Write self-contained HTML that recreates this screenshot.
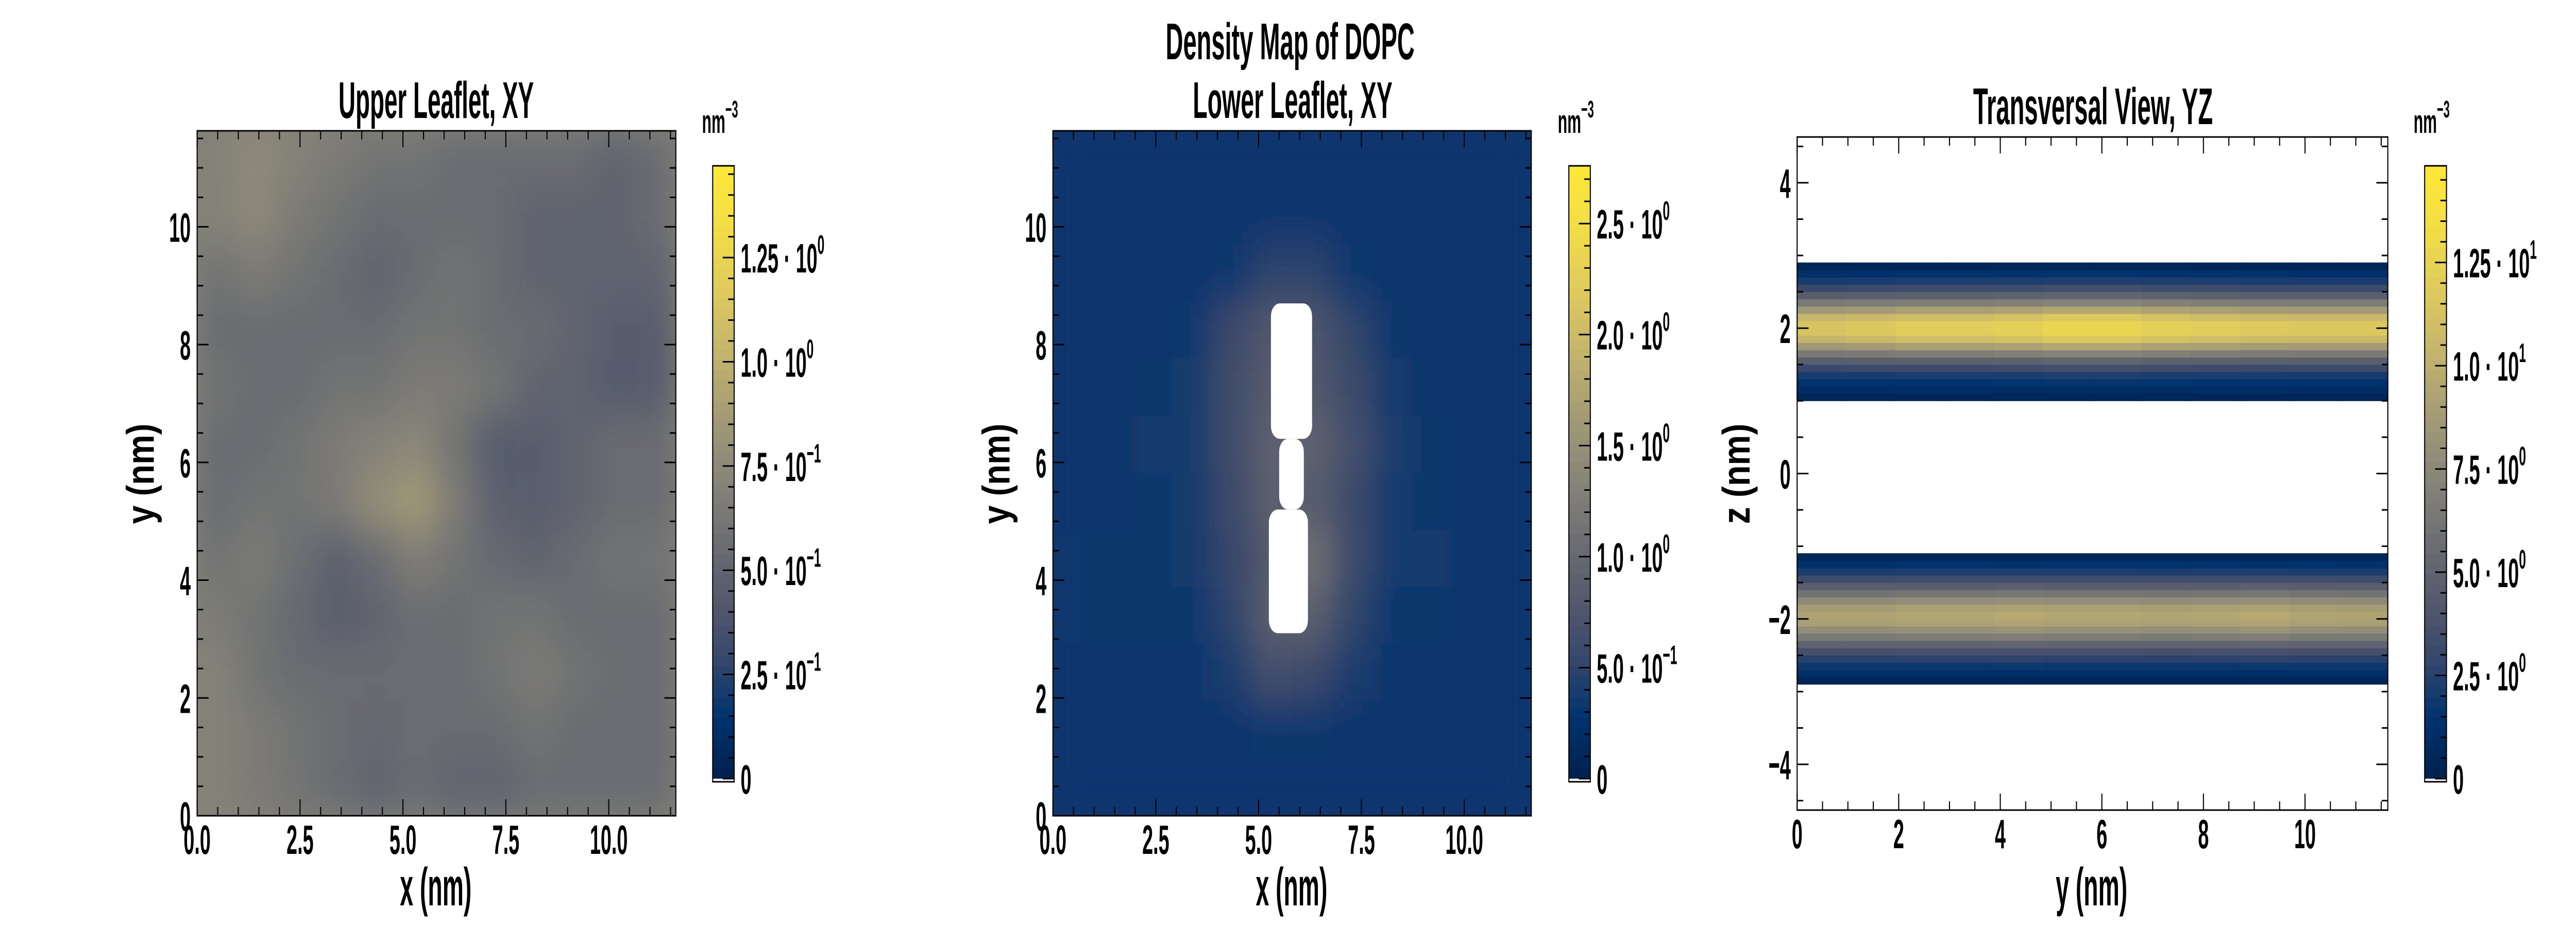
<!DOCTYPE html>
<html><head><meta charset="utf-8">
<style>
html,body{margin:0;padding:0;background:#fff;overflow:hidden;width:100%;height:100%;}
svg{display:block;width:100vw;height:100vh;}
text{font-family:"Liberation Sans","DejaVu Sans",sans-serif;font-weight:bold;fill:#000;}
</style></head>
<body>
<svg id="fig" xmlns="http://www.w3.org/2000/svg" viewBox="0 0 7200 1800" preserveAspectRatio="none">
<defs>
<filter id="soft" x="-10%" y="-10%" width="120%" height="120%"><feGaussianBlur stdDeviation="40"/></filter>
<clipPath id="clip1"><rect x="551" y="254" width="1338" height="1330"/></clipPath>
<clipPath id="clip2"><rect x="2943" y="254" width="1337" height="1330"/></clipPath>
<clipPath id="clip3"><rect x="5023" y="266" width="1651" height="1307"/></clipPath>
</defs>
</svg>
<script>
// ---------- data ----------
const upperGrid = [
[0.70,0.75,0.70,0.65,0.60,0.60,0.55,0.55,0.55,0.55,0.50,0.55],
[0.70,0.75,0.65,0.60,0.55,0.55,0.55,0.55,0.50,0.50,0.50,0.55],
[0.60,0.65,0.60,0.55,0.50,0.55,0.60,0.55,0.50,0.50,0.50,0.50],
[0.55,0.55,0.55,0.55,0.55,0.60,0.60,0.55,0.55,0.50,0.45,0.45],
[0.60,0.55,0.55,0.60,0.60,0.65,0.65,0.60,0.50,0.50,0.43,0.45],
[0.55,0.55,0.60,0.65,0.70,0.74,0.60,0.43,0.45,0.50,0.55,0.55],
[0.55,0.60,0.60,0.65,0.78,0.85,0.65,0.47,0.45,0.50,0.55,0.55],
[0.60,0.65,0.57,0.47,0.55,0.67,0.60,0.53,0.50,0.55,0.60,0.60],
[0.65,0.60,0.53,0.45,0.50,0.57,0.55,0.60,0.60,0.55,0.55,0.55],
[0.70,0.60,0.55,0.55,0.55,0.55,0.55,0.60,0.65,0.60,0.55,0.55],
[0.70,0.65,0.60,0.55,0.53,0.55,0.55,0.55,0.60,0.55,0.55,0.55],
[0.70,0.65,0.60,0.55,0.50,0.55,0.50,0.50,0.55,0.55,0.55,0.55]
];
const lowerGrid = [
[0.32,0.32,0.32,0.32,0.32,0.32,0.32,0.32,0.32,0.32,0.32,0.32],
[0.32,0.32,0.32,0.32,0.32,0.32,0.32,0.32,0.32,0.32,0.32,0.32],
[0.32,0.32,0.32,0.32,0.35,0.50,0.50,0.35,0.32,0.32,0.32,0.32],
[0.32,0.32,0.32,0.35,0.58,0.78,0.75,0.52,0.35,0.32,0.32,0.32],
[0.32,0.32,0.35,0.38,0.62,0.82,0.78,0.60,0.38,0.32,0.32,0.32],
[0.32,0.32,0.38,0.38,0.62,0.90,0.92,0.66,0.42,0.35,0.32,0.32],
[0.32,0.32,0.35,0.38,0.58,0.88,0.82,0.60,0.38,0.35,0.32,0.32],
[0.35,0.35,0.35,0.38,0.54,0.80,1.10,0.60,0.38,0.38,0.32,0.32],
[0.35,0.35,0.35,0.35,0.50,0.88,0.88,0.52,0.35,0.35,0.32,0.32],
[0.32,0.32,0.32,0.32,0.42,0.65,0.58,0.42,0.32,0.32,0.32,0.32],
[0.32,0.32,0.32,0.32,0.32,0.35,0.35,0.32,0.32,0.32,0.32,0.32],
[0.32,0.32,0.32,0.32,0.32,0.32,0.32,0.32,0.32,0.32,0.32,0.32]
];
const holeX0 = [5.30, 5.50, 5.25];
const holeX1 = [6.30, 6.10, 6.20];
const holeY0 = [6.40, 5.20, 3.10];
const holeY1 = [8.70, 6.40, 5.20];
const zUpper = [1.05,1.15,1.25,1.35,1.45,1.55,1.65,1.75,1.85,1.95,2.05,2.15,2.25,2.35,2.45,2.55,2.65,2.75,2.85];
const densUpper = [0.5,1.0,1.5,2.2,3.2,4.8,6.8,9.0,11.0,12.0,12.0,11.0,9.0,6.8,4.8,3.2,2.2,1.4,0.5];
const zLower = [-2.85,-2.75,-2.65,-2.55,-2.45,-2.35,-2.25,-2.15,-2.05,-1.95,-1.85,-1.75,-1.65,-1.55,-1.45,-1.35,-1.25,-1.15];
const densLower = [0.5,1.2,1.8,2.6,3.6,5.0,6.6,8.0,9.2,9.5,9.0,7.8,6.2,4.6,3.3,2.2,1.4,0.6];
const yModUpper = [0.95,0.97,1.00,1.00,1.02,1.06,1.06,1.02,1.00,0.98,0.97,0.97];
const yModLower = [0.98,0.98,1.00,1.00,1.02,1.00,1.00,0.99,1.00,1.02,0.99,0.98];
const xyTicks = [0, 2.5, 5, 7.5, 10];
const xyTickLabels = ["0.0","2.5","5.0","7.5","10.0"];
const xyYTicks = [0, 2, 4, 6, 8, 10];
const xyYTickLabels = ["0","2","4","6","8","10"];
const yzXTicks = [0, 2, 4, 6, 8, 10];
const yzXTickLabels = ["0","2","4","6","8","10"];
const yzYTicks = [-4, -2, 0, 2, 4];
const yzYTickLabels = ["\u22124","\u22122","0","2","4"];
const cb1Ticks = [0, 0.25, 0.5, 0.75, 1.0, 1.25];
const cb1Mant = ["0","2.5","5.0","7.5","1.0","1.25"];
const cb1Exp = ["","\u22121","\u22121","\u22121","0","0"];
const cb2Ticks = [0, 0.5, 1.0, 1.5, 2.0, 2.5];
const cb2Mant = ["0","5.0","1.0","1.5","2.0","2.5"];
const cb2Exp = ["","\u22121","0","0","0","0"];
const cb3Ticks = [0, 2.5, 5.0, 7.5, 10, 12.5];
const cb3Mant = ["0","2.5","5.0","7.5","1.0","1.25"];
const cb3Exp = ["","0","0","0","1","1"];

// ---------- helpers ----------
const NS = "http://www.w3.org/2000/svg";
const svg = document.getElementById("fig");
const civ = [[0,0,32,77],[0.1,0,51,111],[0.2,57,72,107],[0.3,87,92,109],[0.4,112,113,115],[0.5,138,135,121],[0.6,166,157,117],[0.7,196,181,108],[0.8,223,203,93],[0.9,243,221,70],[1,254,232,56]];
function cividis(t){
  t = Math.max(0, Math.min(1, t));
  for (let i = 1; i < civ.length; i++) {
    if (t <= civ[i][0]) {
      const a = civ[i-1], b = civ[i], f = (t - a[0]) / (b[0] - a[0]);
      return "rgb(" + [1,2,3].map(k => Math.round(a[k] + (b[k]-a[k])*f)).join(",") + ")";
    }
  }
  return "rgb(254,232,56)";
}
function el(tag, attrs, parent){
  const e = document.createElementNS(NS, tag);
  for (const k in attrs) e.setAttribute(k, attrs[k]);
  (parent || svg).appendChild(e);
  return e;
}
const SX = 0.68;
function txt(x, y, str, size, anchor, parent){
  const t = el("text", {transform:"translate(" + x + "," + y + ") scale(" + SX + ",1)", "font-size":size, "text-anchor":anchor||"middle"}, parent);
  t.textContent = str;
  return t;
}

const panels = [
  {L:551, R:1889, T:254, B:1584, x0:0, x1:11.63, y0:0, y1:11.63, clip:"clip1"},
  {L:2943, R:4280, T:254, B:1584, x0:0, x1:11.63, y0:0, y1:11.63, clip:"clip2"},
  {L:5023, R:6674, T:266, B:1573, x0:0, x1:11.63, y0:-4.63, y1:4.63, clip:"clip3"}
];
function sx(p, v){ return p.L + (v - p.x0) / (p.x1 - p.x0) * (p.R - p.L); }
function sy(p, v){ return p.B - (v - p.y0) / (p.y1 - p.y0) * (p.B - p.T); }

function drawGrid(p, grid, vmax, name){
  const outer = el("g", {"clip-path":"url(#" + p.clip + ")"});
  
  
  const base = el("rect", {x:p.L, y:p.T, width:p.R-p.L, height:p.B-p.T, fill:cividis(grid[0][0]/vmax)}, outer);
  
  
  const g = el("g", {filter:"url(#soft)"}, outer);
  const n = grid.length, m = grid[0].length;
  const dx = (p.x1 - p.x0) / m, dy = (p.y1 - p.y0) / n;
  for (let r = 0; r < n; r++) for (let c = 0; c < m; c++) {
    const xa = sx(p, p.x0 + c*dx), xb = sx(p, p.x0 + (c+1)*dx);
    const ya = sy(p, p.y1 - r*dy), yb = sy(p, p.y1 - (r+1)*dy);
    const cell = el("rect", {x:xa-1, y:ya-1, width:xb-xa+2, height:yb-ya+2, fill:cividis(grid[r][c]/vmax)}, g);
    
    
  }
  return outer;
}

function drawAxes(p, xt, xl, xMinor, yt, yl, yMinor, pname){
  const tg = el("g", {stroke:"#000", "stroke-width":3});
  
  
  for (let v = Math.ceil(p.x0/xMinor)*xMinor; v <= p.x1 + 1e-9; v += xMinor) {
    const major = xt.some(t => Math.abs(t - v) < 1e-6);
    const len = major ? 32 : 17, X = sx(p, v);
    el("line", {x1:X, x2:X, y1:p.B, y2:p.B-len}, tg);
    el("line", {x1:X, x2:X, y1:p.T, y2:p.T+len}, tg);
  }
  for (let v = Math.ceil(p.y0/yMinor)*yMinor; v <= p.y1 + 1e-9; v += yMinor) {
    const major = yt.some(t => Math.abs(t - v) < 1e-6);
    const len = major ? 32 : 17, Y = sy(p, v);
    el("line", {x1:p.L, x2:p.L+len, y1:Y, y2:Y}, tg);
    el("line", {x1:p.R, x2:p.R-len, y1:Y, y2:Y}, tg);
  }
  const frame = el("rect", {x:p.L, y:p.T, width:p.R-p.L, height:p.B-p.T, fill:"none", stroke:"#000", "stroke-width":3});
  
  
  for (let i = 0; i < xt.length; i++) {
    const t = txt(sx(p, xt[i]), p.B + 74, xl[i], 80, "middle");
    
    
  }
  for (let i = 0; i < yt.length; i++) {
    const t = txt(p.L - 18, sy(p, yt[i]) + 29, yl[i], 80, "end");
    
    
  }
}

function drawColorbar(L, R, vmax, ticks, mant, exps, minorStep, name, unitX){
  const T = 322, B = 1518, Z = 1512;
  const cy = v => Z - v / vmax * (Z - T);
  const g = el("g", {});
  
  
  const N = 60;
  for (let i = 0; i < N; i++) {
    const va = vmax * i / N, vb = vmax * (i+1) / N;
    el("rect", {x:L, y:cy(vb)-0.5, width:R-L, height:cy(va)-cy(vb)+1, fill:cividis((va+vb)/2/vmax)}, g);
  }
  el("rect", {x:L, y:Z, width:R-L, height:B-Z, fill:"#fff"}, g);
  for (let v = 0; v <= vmax + 1e-9; v += minorStep) {
    const major = ticks.some(t => Math.abs(t - v) < 1e-6);
    const len = major ? 32 : 17;
    el("line", {x1:R, x2:R-len, y1:cy(v), y2:cy(v), stroke:"#000", "stroke-width":3}, g);
  }
  el("rect", {x:L, y:T, width:R-L, height:B-T, fill:"none", stroke:"#000", "stroke-width":3}, g);
  for (let i = 0; i < ticks.length; i++) {
    const t = txt(R + 18, cy(ticks[i]) + 29, "", 80, "start", g);
    
    
    const s1 = document.createElementNS(NS, "tspan");
    s1.textContent = exps[i] === "" ? mant[i] : mant[i] + " \u00B7 10";
    t.appendChild(s1);
    if (exps[i] !== "") {
      const s2 = document.createElementNS(NS, "tspan");
      s2.setAttribute("font-size", 52);
      s2.setAttribute("dy", -36);
      s2.textContent = exps[i];
      t.appendChild(s2);
    }
  }
  const u = txt(unitX, 258, "", 64, "start");
  
  
  const u1 = document.createElementNS(NS, "tspan"); u1.textContent = "nm"; u.appendChild(u1);
  const u2 = document.createElementNS(NS, "tspan"); u2.setAttribute("font-size", 46); u2.setAttribute("dy", -30); u2.textContent = "\u22123"; u.appendChild(u2);
}

const p1 = panels[0];
drawGrid(p1, upperGrid, 1.47, 'upper-leaflet-heatmap');
drawAxes(p1, xyTicks, xyTickLabels, 0.5, xyYTicks, xyYTickLabels, 0.5, 'upper-leaflet');
drawColorbar(1992, 2052, 1.47, cb1Ticks, cb1Mant, cb1Exp, 0.05, 'upper-leaflet-colorbar', 1962);

const p2 = panels[1];
const hm2 = drawGrid(p2, lowerGrid, 2.76, 'lower-leaflet-heatmap');
for (let i = 0; i < holeX0.length; i++) {
  const h = el("rect", {x:sx(p2, holeX0[i]), y:sy(p2, holeY1[i]), width:sx(p2, holeX1[i]) - sx(p2, holeX0[i]), height:sy(p2, holeY0[i]) - sy(p2, holeY1[i]), rx:25, fill:"#fff"}, hm2);
  
  
}
drawAxes(p2, xyTicks, xyTickLabels, 0.5, xyYTicks, xyYTickLabels, 0.5, 'lower-leaflet');
drawColorbar(4385, 4445, 2.76, cb2Ticks, cb2Mant, cb2Exp, 0.1, 'lower-leaflet-colorbar', 4354);

const p3 = panels[2];
const g3 = el("g", {"clip-path":"url(#clip3)"});


function band(zs, ds, mod){
  const m = mod.length, dy = (p3.x1 - p3.x0) / m;
  for (let i = 0; i < zs.length; i++) for (let c = 0; c < m; c++) {
    const xa = sx(p3, c*dy), xb = sx(p3, (c+1)*dy);
    const ya = sy(p3, zs[i] + 0.05), yb = sy(p3, zs[i] - 0.05);
    const r = el("rect", {x:xa-0.5, y:ya-0.5, width:xb-xa+1, height:yb-ya+1, fill:cividis(ds[i]*mod[c]/14.84)}, g3);
    
    
  }
}
band(zUpper, densUpper, yModUpper);
band(zLower, densLower, yModLower);
drawAxes(p3, yzXTicks, yzXTickLabels, 0.5, yzYTicks, yzYTickLabels, 0.5, 'transversal');
drawColorbar(6777, 6838, 14.84, cb3Ticks, cb3Mant, cb3Exp, 0.5, 'transversal-colorbar', 6746);

function title(x, y, s, size, len){
  const t = el("text", {x:x, y:y, "font-size":size, "text-anchor":"middle", textLength:len, lengthAdjust:"spacingAndGlyphs"});
  t.textContent = s;
  return t;
}
let t;
t = title(1219, 229, "Upper Leaflet, XY", 100, 546);  
t = title(3606, 115, "Density Map of DOPC", 100, 696);  
t = title(3613, 229, "Lower Leaflet, XY", 100, 558);  
t = title(5850, 241, "Transversal View, YZ", 100, 670);  
t = title(1218, 1758, "x (nm)", 104, 200);  
t = title(3610, 1758, "x (nm)", 104, 200);  
t = title(5846, 1758, "y (nm)", 104, 200);  
function ylab(x, s){
  const e = el("text", {transform:"translate(" + x + ",920) rotate(-90)", "font-size":108, "text-anchor":"middle", textLength:195, lengthAdjust:"spacingAndGlyphs"});
  e.textContent = s;
  return e;
}
t = ylab(430, "y (nm)");  
t = ylab(2822, "y (nm)");  
t = ylab(4890, "z (nm)");  
</script>
</body></html>
